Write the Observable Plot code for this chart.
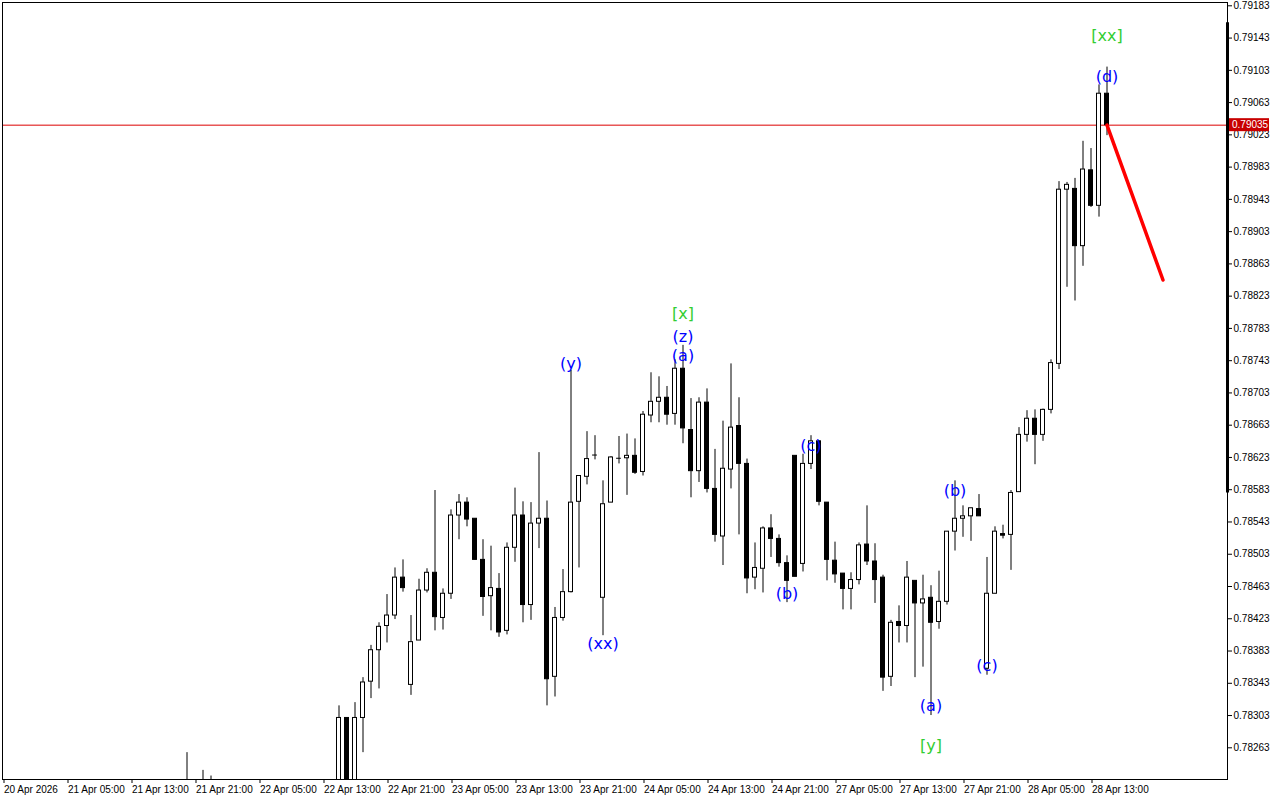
<!DOCTYPE html>
<html><head><meta charset="utf-8">
<script src="https://cdn.jsdelivr.net/npm/d3@7"></script>
<script src="https://cdn.jsdelivr.net/npm/@observablehq/plot@0.6"></script>
<style>html,body{margin:0;padding:0;background:#fff;overflow:hidden;} #chart{position:absolute;left:0;top:0;}</style>
</head><body><div id="chart"></div>
<script>
// H1 bars, index 0 = 20 Apr 2026 21:00 (weekend skipped)
const firstIdx = 42;
const opens  = [0.78200,0.78300,0.78215,0.78300,0.78345,0.78384,0.78414,0.78427,0.78474,0.78341,0.78396,0.78458,0.78480,0.78424,0.78454,0.78551,0.78567,0.78547,0.78496,0.78451,0.78460,0.78408,0.78511,0.78551,0.78440,0.78541,0.78547,0.78351,0.78424,0.78456,0.78568,0.78599,0.78626,0.78449,0.78567,0.78622,0.78622,0.78625,0.78605,0.78675,0.78692,0.78697,0.78677,0.78733,0.78657,0.78606,0.78691,0.78584,0.78525,0.78608,0.78662,0.78615,0.78474,0.78485,0.78535,0.78522,0.78492,0.78625,0.78491,0.78615,0.78643,0.78567,0.78495,0.78479,0.78460,0.78471,0.78515,0.78494,0.78474,0.78351,0.78419,0.78414,0.78470,0.78442,0.78449,0.78419,0.78444,0.78531,0.78547,0.78550,0.78559,0.78361,0.78454,0.78528,0.78527,0.78580,0.78651,0.78671,0.78651,0.78682,0.78739,0.78955,0.78956,0.78885,0.78979,0.78935,0.79074];
const highs  = [0.78315,0.78300,0.78319,0.78350,0.78390,0.78418,0.78453,0.78486,0.78496,0.78427,0.78472,0.78485,0.78582,0.78460,0.78558,0.78577,0.78573,0.78547,0.78521,0.78513,0.78479,0.78517,0.78585,0.78568,0.78567,0.78629,0.78569,0.78437,0.78484,0.78731,0.78600,0.78655,0.78650,0.78594,0.78624,0.78649,0.78652,0.78646,0.78680,0.78728,0.78723,0.78711,0.78744,0.78762,0.78696,0.78697,0.78708,0.78633,0.78668,0.78739,0.78697,0.78621,0.78517,0.78537,0.78552,0.78527,0.78501,0.78625,0.78627,0.78650,0.78643,0.78567,0.78518,0.78479,0.78480,0.78517,0.78563,0.78516,0.78477,0.78421,0.78439,0.78494,0.78470,0.78477,0.78464,0.78482,0.78531,0.78594,0.78563,0.78560,0.78577,0.78499,0.78537,0.78539,0.78582,0.78660,0.78681,0.78682,0.78683,0.78744,0.78965,0.78964,0.78969,0.79015,0.79006,0.79085,0.79107];
const lows   = [0.78190,0.78195,0.78205,0.78257,0.78324,0.78336,0.78393,0.78422,0.78456,0.78328,0.78396,0.78455,0.78408,0.78409,0.78447,0.78521,0.78537,0.78496,0.78426,0.78408,0.78400,0.78403,0.78493,0.78418,0.78421,0.78510,0.78315,0.78326,0.78420,0.78455,0.78486,0.78589,0.78620,0.78402,0.78567,0.78615,0.78576,0.78602,0.78600,0.78666,0.78666,0.78663,0.78663,0.78640,0.78573,0.78592,0.78579,0.78518,0.78489,0.78584,0.78527,0.78454,0.78459,0.78455,0.78499,0.78487,0.78443,0.78475,0.78481,0.78608,0.78563,0.78470,0.78467,0.78434,0.78434,0.78465,0.78489,0.78442,0.78333,0.78339,0.78393,0.78393,0.78350,0.78363,0.78303,0.78410,0.78440,0.78507,0.78524,0.78519,0.78550,0.78353,0.78454,0.78522,0.78483,0.78580,0.78642,0.78614,0.78643,0.78677,0.78732,0.78834,0.78817,0.78860,0.78933,0.78921,0.79022];
const closes = [0.78300,0.78205,0.78300,0.78344,0.78384,0.78413,0.78427,0.78474,0.78461,0.78394,0.78458,0.78480,0.78425,0.78454,0.78551,0.78567,0.78546,0.78496,0.78450,0.78461,0.78406,0.78511,0.78551,0.78440,0.78541,0.78547,0.78348,0.78424,0.78456,0.78567,0.78600,0.78621,0.78626,0.78565,0.78623,0.78622,0.78625,0.78604,0.78676,0.78692,0.78697,0.78676,0.78733,0.78659,0.78606,0.78691,0.78584,0.78527,0.78609,0.78660,0.78615,0.78473,0.78486,0.78535,0.78522,0.78492,0.78470,0.78475,0.78615,0.78643,0.78568,0.78496,0.78478,0.78460,0.78471,0.78514,0.78494,0.78471,0.78350,0.78418,0.78414,0.78474,0.78442,0.78447,0.78418,0.78444,0.78531,0.78547,0.78550,0.78560,0.78550,0.78454,0.78531,0.78526,0.78579,0.78651,0.78671,0.78651,0.78682,0.78740,0.78955,0.78961,0.78885,0.78980,0.78935,0.79074,0.79035];
// earlier bars, only their upper wicks reach the visible window
const earlyIdx   = [23, 25, 26];
const earlyHigh  = [0.78257, 0.78235, 0.78228];
const earlyOpen  = [0.78205, 0.78200, 0.78195];
const earlyClose = [0.78195, 0.78195, 0.78200];
const earlyLow   = [0.78185, 0.78185, 0.78190];

const timeLabels = ["20 Apr 2026","21 Apr 05:00","21 Apr 13:00","21 Apr 21:00","22 Apr 05:00","22 Apr 13:00","22 Apr 21:00","23 Apr 05:00","23 Apr 13:00","23 Apr 21:00","24 Apr 05:00","24 Apr 13:00","24 Apr 21:00","27 Apr 05:00","27 Apr 13:00","27 Apr 21:00","28 Apr 05:00","28 Apr 13:00"];
const priceTicks = [0.79183,0.79143,0.79103,0.79063,0.79023,0.78983,0.78943,0.78903,0.78863,0.78823,0.78783,0.78743,0.78703,0.78663,0.78623,0.78583,0.78543,0.78503,0.78463,0.78423,0.78383,0.78343,0.78303,0.78263];
const currentPrice = 0.79035;
const scaleBar = [0.78579, 0.79162];

const waveText  = ["[xx]","(d)","[x]","(z)","(a)","(y)","(xx)","(c)","(b)","(b)","(c)","(a)","[y]"];
const waveIdx   = [138, 138, 85, 85, 85, 71, 75, 101, 98, 119, 123, 116, 116];
const wavePrice = [0.79146,0.79095,0.78801,0.78772,0.78749,0.78739,0.78392,0.78637,0.78454,0.78582,0.78365,0.78315,0.78265];
const waveColor = ["#32cd32","#0000ff","#32cd32","#0000ff","#0000ff","#0000ff","#0000ff","#0000ff","#0000ff","#0000ff","#0000ff","#0000ff","#32cd32"];

const projIdx = [138, 145];
const projPrice = [0.79035, 0.78843];

const bars = opens.map((o, k) => ({i: firstIdx + k, open: o, high: highs[k], low: lows[k], close: closes[k]}));
earlyIdx.forEach((i, k) => bars.push({i, open: earlyOpen[k], high: earlyHigh[k], low: earlyLow[k], close: earlyClose[k]}));
const dojis = bars.filter(d => Math.abs(d.open - d.close) < 0.00002);
const waves = waveText.map((t, k) => ({t, i: waveIdx[k], p: wavePrice[k], c: waveColor[k]}));
const proj = projIdx.map((i, k) => ({i, p: projPrice[k]}));
const HW = 0.25;

const plot = Plot.plot({
  width: 1280, height: 800,
  marginLeft: 2, marginRight: 53, marginTop: 2, marginBottom: 21,
  x: {domain: [-0.0625, 153.0625], axis: null},
  y: {domain: [0.782237, 0.791871], axis: null},
  style: {fontFamily: "'Liberation Sans', Arial, sans-serif", fontSize: "10px", background: "#fff", color: "#000"},
  marks: [
    Plot.axisY({anchor: "right", ticks: priceTicks, tickFormat: d => d.toFixed(5), tickSize: 4, tickPadding: 2, label: null}),
    Plot.axisX({ticks: timeLabels.map((_, k) => k * 8), tickFormat: d => timeLabels[Math.round(d / 8)], textAnchor: "start", tickSize: 4, tickPadding: 2, dx: 1, label: null}),
    Plot.ruleY([currentPrice], {stroke: "#dd0000", strokeWidth: 1}),
    Plot.ruleX(bars, {x: "i", y1: "low", y2: "high", stroke: "#000", strokeWidth: 1, clip: true}),
    Plot.rect(bars, {x1: d => d.i - HW, x2: d => d.i + HW, y1: "open", y2: "close", fill: d => d.close >= d.open ? "#ffffff" : "#000000", stroke: "#000", strokeWidth: 1, clip: true}),
    Plot.ruleY(dojis, {y: "close", x1: d => d.i - 0.3, x2: d => d.i + 0.3, stroke: "#000", strokeWidth: 1}),
    Plot.text(waves, {x: "i", y: "p", text: "t", fill: "c", fontSize: 16, fontFamily: "'DejaVu Sans', sans-serif"}),
    Plot.line(proj, {x: "i", y: "p", stroke: "#ff0000", strokeWidth: 3.5}),
    Plot.ruleX([153.0625], {y1: scaleBar[0], y2: scaleBar[1], stroke: "#000", strokeWidth: 3}),
    Plot.frame({stroke: "#000"})
  ]
});

const ys = plot.scale("y"), xs = plot.scale("x");
const svg = d3.select(plot);
const yy = ys.apply(currentPrice);
const xr = xs.range[1];
svg.append("rect").attr("x", xr + 2).attr("y", yy - 6.5).attr("width", 40).attr("height", 13).attr("fill", "#c80000");
svg.append("text").attr("x", xr + 5).attr("y", yy).attr("dy", "0.35em").attr("fill", "#fff")
  .attr("text-anchor", "start")
  .attr("font-family", "'Liberation Sans', Arial, sans-serif").attr("font-size", 10).text(currentPrice.toFixed(5));

document.getElementById("chart").appendChild(plot);
</script>
</body></html>
